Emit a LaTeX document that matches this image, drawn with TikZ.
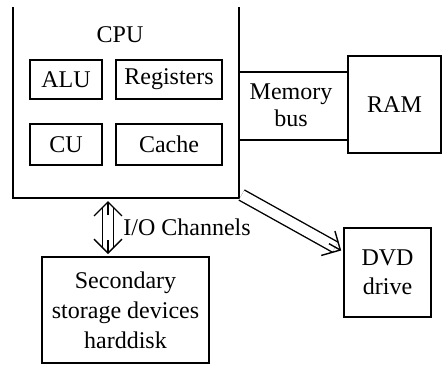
\documentclass[tikz,border=0pt]{standalone}
\usepackage{fontspec}
\setmainfont{Liberation Serif}
\usetikzlibrary{arrows.meta,calc}

\begin{document}
\begin{tikzpicture}[x=0.5pt, y=-0.5pt, line width=0.8pt,
      every node/.style = {font=\rmfamily\fontsize{12}{14.5}\selectfont, align=center},
      box/.style = {shape=rectangle, draw, inner sep=0pt},
      pipe/.style = {double, double distance=5pt, line width=0.7pt},
      head/.style = {line width=0.7pt, -{Straight Barb[length=7pt, width=14pt]}}]
  \useasboundingbox (0,0) rectangle (443,364);
  \clip (0,7) rectangle (443,364);
  % processor and its parts
  \node[box, anchor=south west, minimum width=113pt, minimum height=104.5pt] (cpu) at (12,199) {};
  \node (cputitle) at (120,35) {CPU};
  \node[box, minimum width=36pt, minimum height=19.5pt] (alu) at (66,79.5) {ALU};
  \node[box, minimum width=53pt, minimum height=19.5pt] (reg) at (169,79.5) {Registers};
  \node[box, minimum width=36pt, minimum height=20.5pt] (cu) at (66,144.5) {CU};
  \node[box, minimum width=53pt, minimum height=20.5pt] (cache) at (169,144.5) {Cache};
  % memory side
  \node[box, minimum width=46.5pt, minimum height=48.5pt] (ram) at (394.5,104.5) {RAM};
  \draw ([yshift=16.25pt]ram.west) -- ([yshift=16.25pt]ram.west -| cpu.east);
  \draw ([yshift=-17.75pt]ram.west) -- ([yshift=-17.75pt]ram.west -| cpu.east);
  \node[font=\rmfamily\fontsize{12}{13.5}\selectfont] (bus) at (291,105) {Memory\\bus};
  % devices
  \node[box, minimum width=83.5pt, minimum height=53pt, font=\rmfamily\fontsize{12}{15}\selectfont] (disk) at (125.5,310)
    {Secondary\\storage devices\\harddisk};
  \node[box, minimum width=43.5pt, minimum height=44.5pt] (dvd) at (387.5,272.5) {DVD\\drive};
  % channels
  \coordinate (iotop) at ([xshift=-8.75pt, yshift=-1pt]disk.north |- cpu.south);
  \coordinate (iobot) at ([xshift=-8.75pt, yshift=1pt]disk.north);
  \draw[pipe, shorten <=3.5pt, shorten >=3.5pt] (iotop) -- (iobot)
    node[midway, right=4pt] (io) {I/O Channels};
  \draw[head] ([yshift=-7pt]iotop) -- (iotop);
  \draw[head] ([yshift=7pt]iobot) -- (iobot);
  \coordinate (dvdfrom) at ([xshift=1pt, yshift=2pt]cpu.south east);
  \coordinate (dvdto) at ([xshift=-1pt, yshift=11pt]dvd.west);
  \draw[pipe, shorten >=3.5pt] (dvdfrom) -- (dvdto);
  \draw[head] ($(dvdto)!7pt!(dvdfrom)$) -- (dvdto);
\end{tikzpicture}
\end{document}
